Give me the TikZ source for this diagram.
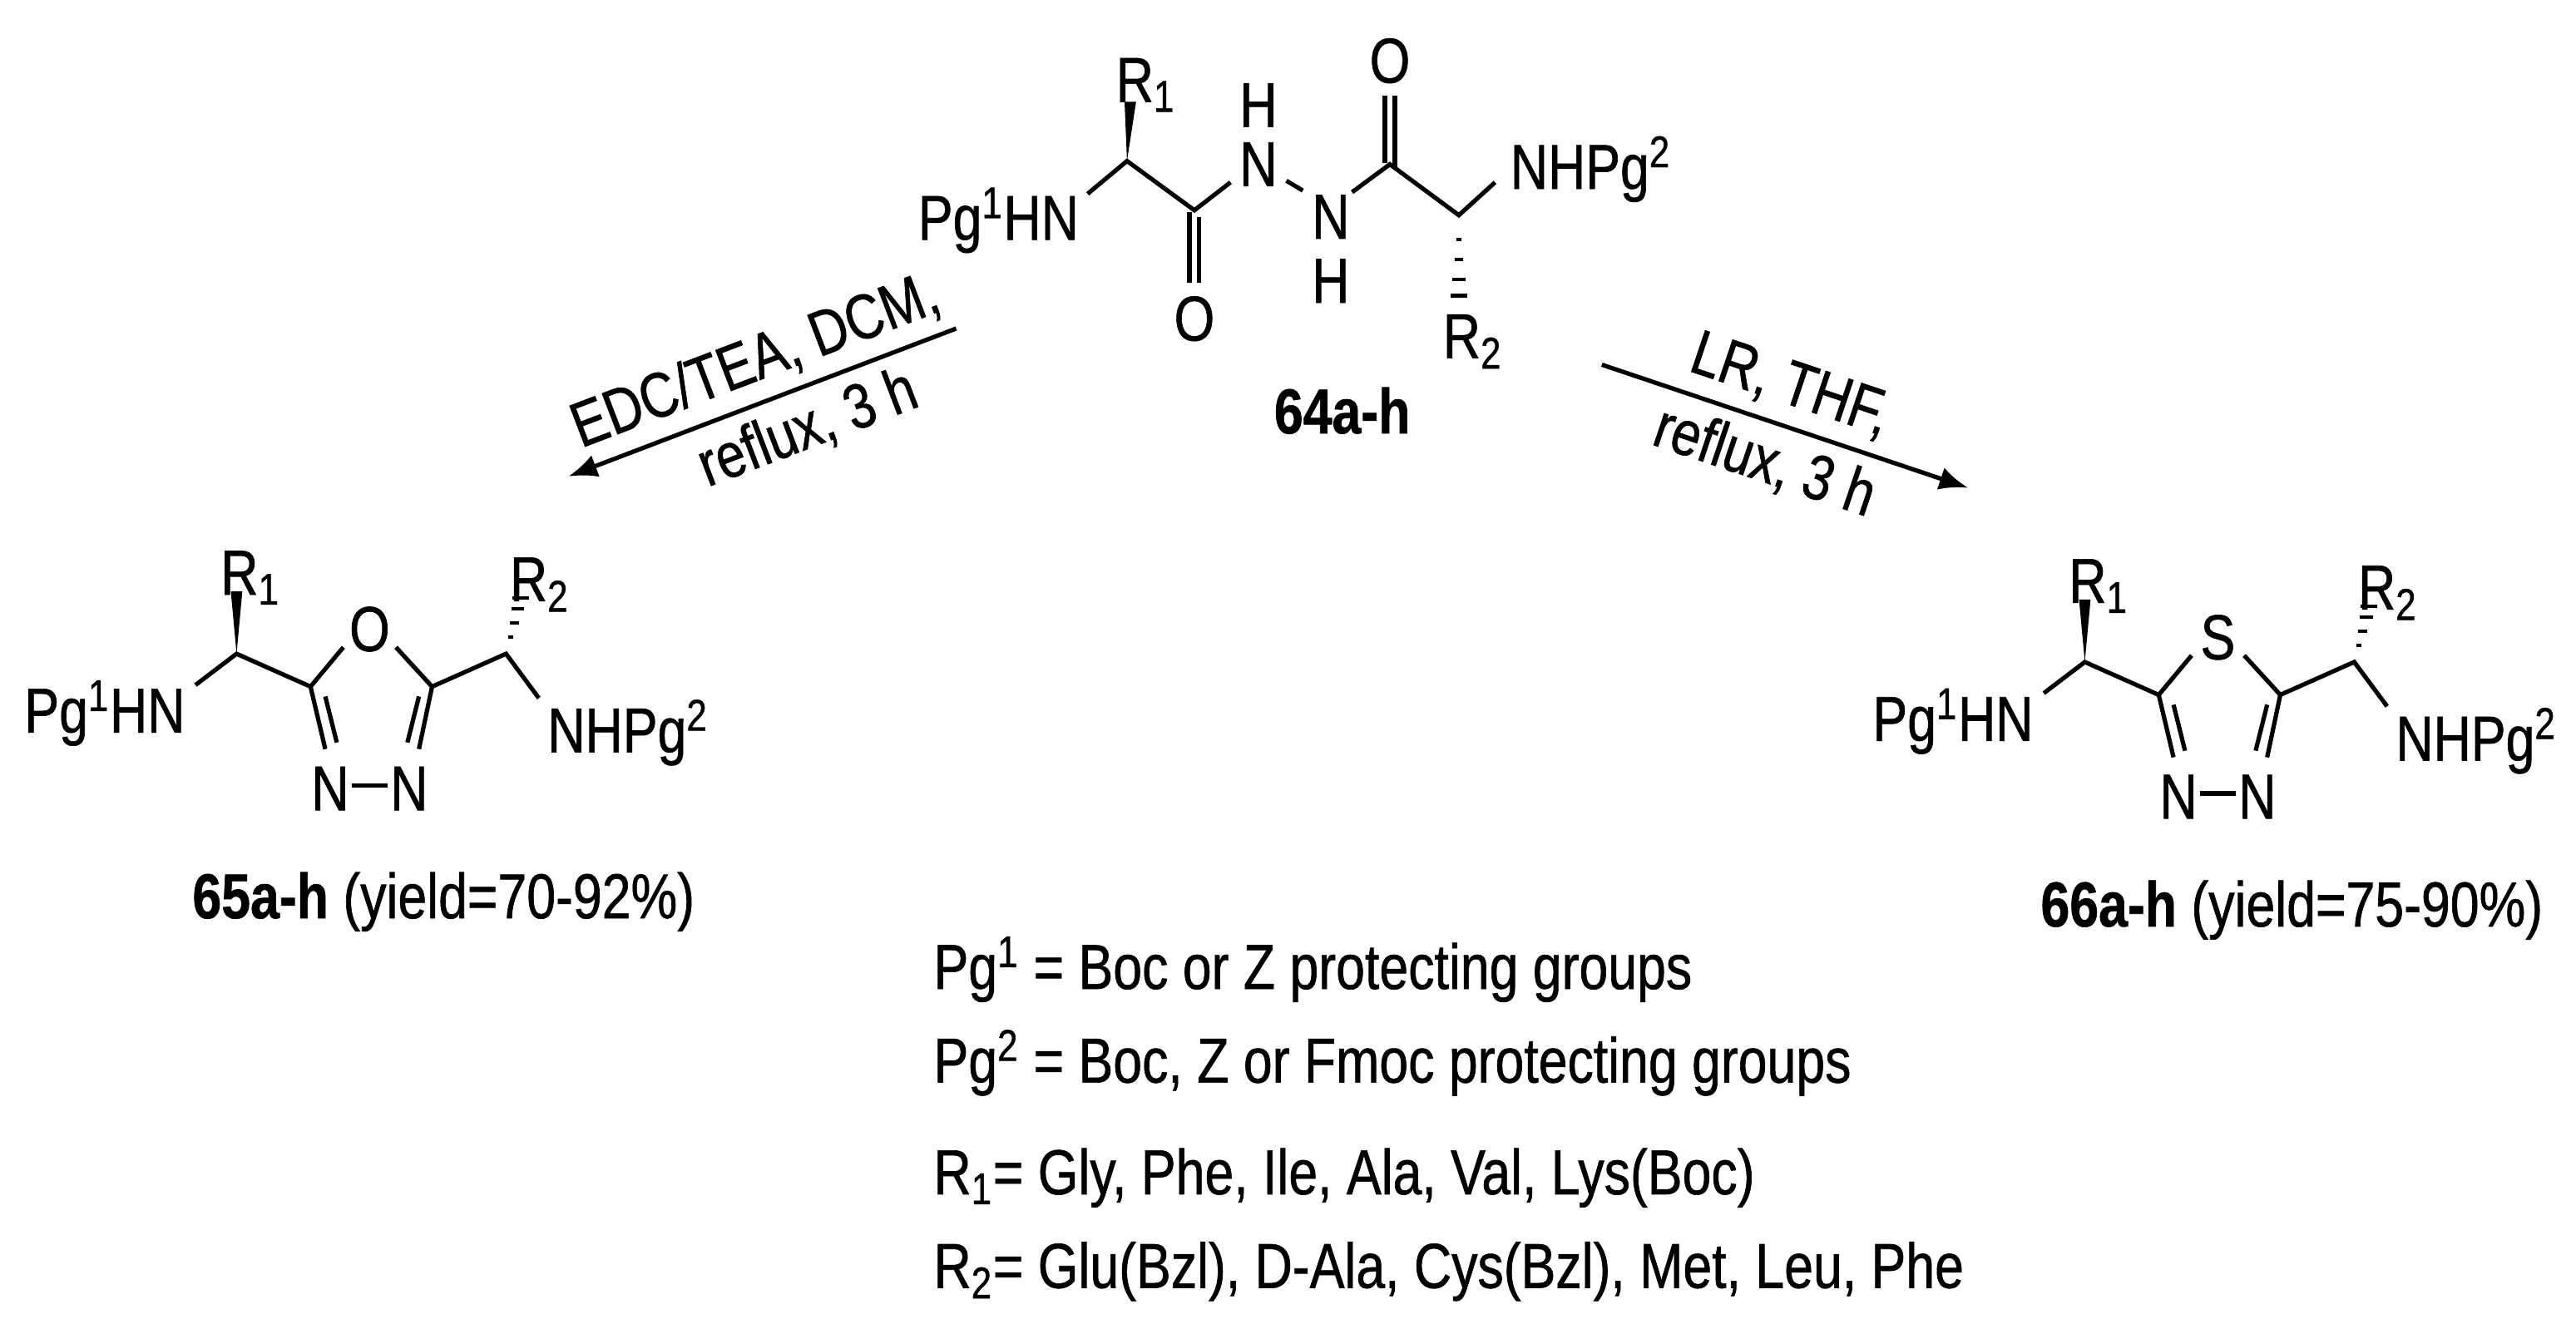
\documentclass[tikz,border=0pt]{standalone}
\usepackage{fontspec}
\setmainfont{Liberation Sans}[FakeStretch=0.82,FakeBold=0.8]
\usetikzlibrary{calc,arrows.meta}
\newcommand\myhash[2]{\foreach \t in {0.3,0.55,0.8,1.0}{\draw[line width=1.2pt] ($(#1)!\t!(#2)$) ++(-\t*5,0) -- ++(\t*10,0);}}
\newcommand\mywedge[2]{\fill ($(#1)$) -- ($(#2)+(-3.5,0)$) -- ($(#2)+(3.5,0)$) -- cycle;}
\begin{document}
\begin{tikzpicture}[x=0.02cm,y=-0.02cm,
  bond/.style={line width=1.5pt},
  atom/.style={inner sep=0pt,font=\fontsize{22}{26}\selectfont},
  lbl/.style={inner sep=0pt,font=\fontsize{22}{26}\selectfont},
  arr/.style={line width=1.5pt,-{Latex[length=10pt,width=8pt]}}]
\useasboundingbox (0,0) rectangle (1568,812);
% ---------- top molecule 64a-h ----------
\node[lbl,anchor=base east] (pg1) at (657,146) {Pg\textsuperscript{1}HN};
\node[lbl,anchor=base west] (r1) at (679,62) {R\textsubscript{1}};
\node[atom] (o1) at (727,194) {O};
\node[atom] (n1) at (766,100) {N};
\node[atom] (h1) at (766,64) {H};
\node[atom] (n2) at (810,132) {N};
\node[atom] (h2) at (810,171) {H};
\node[atom] (o2) at (846,37) {O};
\node[lbl,anchor=base west] (pg2) at (919,115) {NHPg\textsuperscript{2}};
\node[lbl,anchor=base west] (r2) at (878,218) {R\textsubscript{2}};
\node[lbl,font=\fontsize{22}{26}\selectfont\bfseries] (c64) at (817,250) {64a-h};
\coordinate (a1) at (662,118); \coordinate (c1) at (686,98);
\coordinate (c1r) at (688,62); \coordinate (c2) at (727,128);
\coordinate (c2n) at (749,111); \coordinate (nn1) at (783,110); \coordinate (nn2) at (793,116);
\coordinate (n2c) at (823,117); \coordinate (c3) at (846,100);
\coordinate (c4) at (888,131); \coordinate (c4n) at (910,111);
\coordinate (c4r) at (888,180);
\draw[bond] (a1) -- (c1) -- (c2) -- (c2n);
\draw[bond] (nn1) -- (nn2);
\draw[bond] (n2c) -- (c3) -- (c4) -- (c4n);
\draw[bond] ($(c2)+(-3,1)$) -- ($(c2)+(-3,44)$);
\draw[bond] ($(c2)+(3,4)$) -- ($(c2)+(3,44)$);
\draw[bond] ($(c3)+(-3,-1)$) -- ($(c3)+(-3,-42)$);
\draw[bond] ($(c3)+(3,2)$) -- ($(c3)+(3,-42)$);
\mywedge{c1}{c1r}
\myhash{c4}{c4r}
% ---------- reaction arrows ----------
\coordinate (la) at (582,200); \coordinate (lb) at (346,290);
\draw[arr] (la) -- (lb) node[pos=0.48,sloped,above=4pt,lbl] (t1) {EDC/TEA, DCM,}
                     node[pos=0.42,sloped,below=4pt,lbl] (t2) {reflux, 3 h};
\coordinate (ra) at (975,222); \coordinate (rb) at (1198,297);
\draw[arr] (ra) -- (rb) node[pos=0.48,sloped,above=4pt,lbl] (t3) {LR, THF,}
                     node[pos=0.48,sloped,below=4pt,lbl] (t4) {reflux, 3 h};
% ---------- products ----------
\foreach \dx/\dy/\het/\nm/\yl in {0/0/O/65/70-92,1125/5/S/66/75-90}{
\begin{scope}[shift={(\dx,\dy)}]
\node[lbl,anchor=base east] (p1\nm) at (113,446) {Pg\textsuperscript{1}HN};
\node[lbl,anchor=base west] (pr1\nm) at (134,362) {R\textsubscript{1}};
\node[lbl,anchor=base west] (pr2\nm) at (310,366) {R\textsubscript{2}};
\node[lbl,anchor=base west] (p2\nm) at (333,458) {NHPg\textsuperscript{2}};
\node[atom] (x\nm) at (225,383) {\het};
\node[atom] (na\nm) at (201,480) {N};
\node[atom] (nb\nm) at (249,480) {N};
\node[lbl] (lab\nm) at (270,549) {\textbf{\nm a-h} (yield=\yl\%)};
\coordinate (b1\nm) at (119,417); \coordinate (ca\nm) at (144,398);
\coordinate (car\nm) at (144,360); \coordinate (c5\nm) at (189,418);
\coordinate (c5o\nm) at (209,394); \coordinate (oc\nm) at (241,394);
\coordinate (c6\nm) at (263,418); \coordinate (cb\nm) at (308,398);
\coordinate (cbr\nm) at (317,364); \coordinate (cbn\nm) at (328,425);
\coordinate (na1\nm) at (198,456); \coordinate (nb1\nm) at (255,456);
\coordinate (dd1\nm) at (214,478); \coordinate (dd2\nm) at (236,478);
\draw[bond] (b1\nm) -- (ca\nm) -- (c5\nm) -- (c5o\nm);
\draw[bond] (oc\nm) -- (c6\nm) -- (cb\nm) -- (cbn\nm);
\draw[bond] (c5\nm) -- (na1\nm);
\draw[bond] (c6\nm) -- (nb1\nm);
\draw[bond] (198,424) -- (205,452);
\draw[bond] (255,424) -- (248,452);
\draw[bond] (dd1\nm) -- (dd2\nm);
\mywedge{ca\nm}{car\nm}
\myhash{cb\nm}{cbr\nm}
\end{scope}}
% ---------- legend ----------
\node[lbl,anchor=base west] (g1) at (568,602) {Pg\textsuperscript{1} = Boc or Z protecting groups};
\node[lbl,anchor=base west] (g2) at (568,659) {Pg\textsuperscript{2} = Boc, Z or Fmoc protecting groups};
\node[lbl,anchor=base west] (g3) at (568,727) {R\textsubscript{1}= Gly, Phe, Ile, Ala, Val, Lys(Boc)};
\node[lbl,anchor=base west] (g4) at (568,784) {R\textsubscript{2}= Glu(Bzl), D-Ala, Cys(Bzl), Met, Leu, Phe};
\end{tikzpicture}
\end{document}
